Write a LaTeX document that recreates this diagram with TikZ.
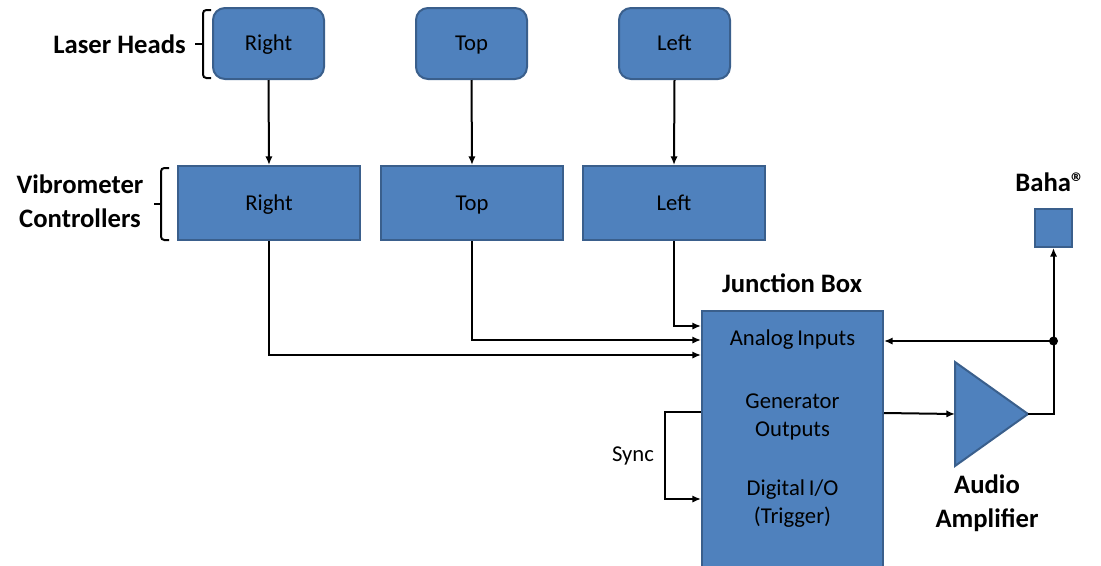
\documentclass[tikz,border=0pt]{standalone}
\usepackage{fontspec}
\setmainfont{Carlito}
\usetikzlibrary{arrows.meta,calc}
\definecolor{boxc}{HTML}{4F81BD}
\definecolor{bordc}{HTML}{3A5F8C}
\tikzset{
  base/.style={draw=bordc, fill=boxc, line width=1.5pt, font=\fontsize{17}{21}\selectfont, inner sep=0pt, text height=11pt, text depth=0.5pt},
  head/.style={base, rounded corners=9pt, minimum width=83.25pt, minimum height=53.25pt},
  ctrl/.style={base, minimum width=136.5pt, minimum height=55.5pt},
  wire/.style={line width=1.5pt, black},
  arr/.style={wire, -{Latex[length=6.5pt,width=5.5pt]}},
  lbl/.style={font=\fontsize{20}{25.5}\selectfont\bfseries, align=center, inner sep=0pt},
  txt/.style={font=\fontsize{17}{21}\selectfont, align=center, inner sep=0pt},
  brk/.style={line width=1.5pt, rounded corners=2.5pt}
}
\begin{document}
\begin{tikzpicture}[x=0.75pt,y=-0.75pt]
\useasboundingbox (0,0) rectangle (1101,565);
% laser heads
\node[head] (hR) at (268.5,43.5) {Right};
\node[head] (hT) at (471.5,43.5) {Top};
\node[head] (hL) at (674.5,43.5) {Left};
% controllers
\node[ctrl] (cR) at (269,203) {Right};
\node[ctrl] (cT) at (472,203) {Top};
\node[ctrl] (cL) at (674,203) {Left};
\draw[arr] (hR.south) -- (cR.north);
\draw[arr] (hT.south) -- (cT.north);
\draw[arr] (hL.south) -- (cL.north);
% junction box
\node[base, text height=, text depth=, minimum width=135.75pt, minimum height=192pt] (jb) at (792.5,439) {};
\node[txt] (ai) at (792.5,340) {Analog\,Inputs};
\node[txt] (go) at (792.5,417) {Generator\\Outputs};
\node[txt] (dio) at (792.5,504) {Digital\,I/O\\(Trigger)};
\node[lbl] (jbl) at (792,283) {Junction Box};
% connectors into junction
\draw[arr] (cL.south) |- ($(jb.north west)+(0,16)$);
\draw[arr] (cT.south) |- ($(jb.north west)+(0,30)$);
\draw[arr] (cR.south) |- ($(jb.north west)+(0,45)$);
% sync loop
\draw[arr] ($(jb.north west)+(0,102)$) -- ++(-36,0) |- ($(jb.north west)+(0,189)$);
\node[txt] (sync) at (633,456) {Sync};
% amplifier
\coordinate (ampin) at (955,414);
\coordinate (ampout) at (1028,414);
\draw[draw=bordc, fill=boxc, line width=1.5pt, line join=miter] (955,362) -- (ampout) -- (955,466) -- cycle;
\draw[arr] ($(jb.north east)+(0,103)$) -- (ampin);
\node[lbl] (ampl) at (987,503) {Audio\\Amplifier};
% Baha
\node[base, text height=, text depth=, minimum width=27.75pt, minimum height=28.5pt] (baha) at (1053.5,228) {};
\node[lbl] (bahal) at (1050,182) {Baha®};
\coordinate (jn) at (1053.5,341);
\draw[arr] (ampout) -| (baha.south);
\fill (jn) circle (4.5);
\draw[arr] (jn) -- (jb.east |- jn);
% brackets and group labels
\draw[brk] (211,10) -- (203,10) -- (203,78) -- (211,78);
\draw[wire] (203,44) -- (195,44);
\node[lbl, anchor=east] (lh) at (186,44) {Laser Heads};
\draw[brk] (169,168) -- (161,168) -- (161,240) -- (169,240);
\draw[wire] (161,204) -- (154,204);
\node[lbl] (vc) at (80,201) {Vibrometer\\Controllers};
\end{tikzpicture}
\end{document}
